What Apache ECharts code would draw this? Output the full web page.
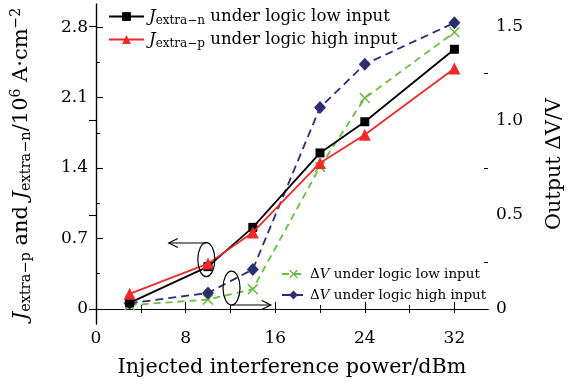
<!DOCTYPE html>
<html>
<head>
<meta charset="utf-8">
<script src="https://cdn.jsdelivr.net/npm/echarts@6/dist/echarts.min.js"></script>
<style>
  html, body { margin: 0; padding: 0; background: #fff; }
  #chart { width: 581px; height: 389px; }
</style>
</head>
<body>
<div id="chart"></div>
<script>
// Injected interference power (dBm)
const power = [3, 10, 14, 20, 24, 32];
// Extra current densities (10^6 A/cm^2), left axis
const jExtraN = [0.06, 0.42, 0.81, 1.55, 1.86, 2.58];
const jExtraP = [0.15, 0.45, 0.76, 1.45, 1.73, 2.39];
// Output voltage change (V), right axis
const dvLow = [0.02, 0.05, 0.105, 0.755, 1.12, 1.47];
const dvHigh = [0.03, 0.085, 0.21, 1.07, 1.30, 1.52];

// Tick positions
const xMajorTicks = [0, 8, 16, 24, 32];
const xMinorTicks = [4, 12, 20, 28];
const leftMajorTicks = [0, 0.7, 1.4, 2.1, 2.8];
const leftMinorTicks = [0.35, 1.05, 1.75, 2.45];
const rightMajorTicks = [0, 0.5, 1.0, 1.5];
const rightMinorTicks = [0.25, 0.75, 1.25];

// Ellipse callouts pointing to the axis each pair of curves belongs to
const leftCallout = { x: 9.85, y: 0.49, arrowX: 6.5, arrowY: 0.655 };
const rightCallout = { x: 12.1, y: 0.111, arrowX: 15.6, arrowY: 0.021 };

const FONT = 'DejaVu Serif';
const pairs = (ys) => power.map((x, i) => [x, ys[i]]);

const legendRich = (size) => ({
  i: { fontFamily: FONT, fontStyle: 'italic', fontSize: size, color: '#000' },
  sub: { fontFamily: FONT, fontSize: Math.round(size * 0.7), color: '#000', padding: [Math.round(size * 0.5), 0, 0, 0] },
  t: { fontFamily: FONT, fontSize: size, color: '#000' }
});

const legendText = {
  Jn_low: '{i|J}{sub|extra\u2212n}{t| under logic low input}',
  Jp_high: '{i|J}{sub|extra\u2212p}{t| under logic high input}',
  dV_low: '{t|\u0394}{i|V}{t| under logic low input}',
  dV_high: '{t|\u0394}{i|V}{t| under logic high input}'
};

function makeLegend(name, left, top, w, size) {
  return {
    data: [name],
    left: left,
    top: top,
    orient: 'vertical',
    itemWidth: w,
    itemHeight: 11,
    padding: 0,
    selectedMode: false,
    formatter: (n) => legendText[n],
    textStyle: { fontFamily: FONT, fontSize: size, color: '#000', rich: legendRich(size) }
  };
}

const crossSymbol = 'path://M0,1L1,0L5,4L9,0L10,1L6,5L10,9L9,10L5,6L1,10L0,9L4,5Z';
const axisLine = { show: true, lineStyle: { color: '#000', width: 1.2 } };
const labelFmt = (v) => (v === 0 ? '0' : v.toFixed(1));

const chart = echarts.init(document.getElementById('chart'), null, { renderer: 'canvas' });

const gridBox = { left: 96, right: 93, top: 4, bottom: 65, outerBoundsMode: 'none' };

chart.setOption({
  animation: false,
  backgroundColor: '#fff',
  grid: [Object.assign({}, gridBox), Object.assign({}, gridBox)],
  legend: [
    makeLegend('Jn_low', 108, 8, 35, 16.6),
    makeLegend('Jp_high', 108, 31, 35, 16.6),
    makeLegend('dV_low', 281, 267, 23, 13.5),
    makeLegend('dV_high', 281, 288, 23, 13.5)
  ],
  xAxis: [
    {
      gridIndex: 0, type: 'value', position: 'bottom', min: 0, max: 35,
      axisLine: axisLine, splitLine: { show: false },
      axisTick: { inside: true, length: 7, customValues: xMajorTicks, lineStyle: { color: '#000', width: 1.1 } },
      axisLabel: { customValues: xMajorTicks, margin: 6, fontFamily: FONT, fontSize: 17, color: '#000' },
      name: 'Injected interference power/dBm', nameLocation: 'middle', nameGap: 33,
      nameTextStyle: { fontFamily: FONT, fontSize: 20.7, color: '#000' }
    },
    {
      gridIndex: 0, type: 'value', position: 'top', min: 0, max: 35,
      axisLine: axisLine, splitLine: { show: false },
      axisTick: { inside: true, length: 4, customValues: xMajorTicks.concat(xMinorTicks), lineStyle: { color: '#000', width: 1 } },
      axisLabel: { show: false }
    },
    {
      gridIndex: 1, type: 'value', position: 'bottom', min: 0, max: 35,
      axisLine: { show: false }, splitLine: { show: false },
      axisTick: { inside: true, length: 4, customValues: xMinorTicks, lineStyle: { color: '#000', width: 1 } },
      axisLabel: { show: false }
    }
  ],
  yAxis: [
    {
      gridIndex: 0, type: 'value', position: 'left', min: -0.15, max: 3.03,
      axisLine: axisLine, splitLine: { show: false },
      axisTick: { inside: true, length: 7, customValues: leftMajorTicks, lineStyle: { color: '#000', width: 1.1 } },
      axisLabel: { customValues: leftMajorTicks, formatter: labelFmt, margin: 8, fontFamily: FONT, fontSize: 17, color: '#000' },
      name: '{i|J}{sub|extra\u2212p}{t| and }{i|J}{sub|extra\u2212n}{t|/10}{sup|6}{t| A\u00b7cm}{sup|\u22122}',
      nameLocation: 'middle', nameRotate: 90, nameGap: 62,
      nameTextStyle: {
        fontFamily: FONT, fontSize: 21, color: '#000',
        rich: {
          i: { fontFamily: FONT, fontStyle: 'italic', fontSize: 21, color: '#000' },
          t: { fontFamily: FONT, fontSize: 21, color: '#000' },
          sub: { fontFamily: FONT, fontSize: 14.5, color: '#000', padding: [10, 0, 0, 0] },
          sup: { fontFamily: FONT, fontSize: 14, color: '#000', padding: [0, 0, 10, 0] }
        }
      }
    },
    {
      gridIndex: 0, type: 'value', position: 'right', min: -0.08, max: 1.62,
      axisLine: axisLine, splitLine: { show: false },
      axisTick: { inside: true, length: 7, customValues: rightMajorTicks, lineStyle: { color: '#000', width: 1.1 } },
      axisLabel: { customValues: rightMajorTicks, formatter: labelFmt, margin: 8, fontFamily: FONT, fontSize: 17, color: '#000' },
      name: 'Output \u0394V/V', nameLocation: 'middle', nameRotate: 90, nameGap: 56,
      nameTextStyle: { fontFamily: FONT, fontSize: 20.7, color: '#000' }
    },
    {
      gridIndex: 1, type: 'value', position: 'left', min: -0.15, max: 3.03,
      axisLine: { show: false }, splitLine: { show: false },
      axisTick: { inside: true, length: 4, customValues: leftMinorTicks, lineStyle: { color: '#000', width: 1 } },
      axisLabel: { show: false }
    },
    {
      gridIndex: 1, type: 'value', position: 'right', min: -0.08, max: 1.62,
      axisLine: { show: false }, splitLine: { show: false },
      axisTick: { inside: true, length: 4, customValues: rightMinorTicks, lineStyle: { color: '#000', width: 1 } },
      axisLabel: { show: false }
    }
  ],
  series: [
    {
      name: 'Jn_low', type: 'line', xAxisIndex: 0, yAxisIndex: 0, data: pairs(jExtraN),
      symbol: 'rect', symbolSize: 9, color: '#000',
      lineStyle: { color: '#000', width: 1.8 }, itemStyle: { color: '#000' }, z: 3
    },
    {
      name: 'Jp_high', type: 'line', xAxisIndex: 0, yAxisIndex: 0, data: pairs(jExtraP),
      symbol: 'triangle', symbolSize: 12, color: '#ee2b2b',
      lineStyle: { color: '#ee2b2b', width: 1.8 }, itemStyle: { color: '#ee2b2b' }, z: 4
    },
    {
      name: 'dV_low', type: 'line', xAxisIndex: 0, yAxisIndex: 1, data: pairs(dvLow),
      symbol: crossSymbol, symbolSize: 11, color: '#6dbb45',
      lineStyle: { color: '#6dbb45', width: 1.8, type: [7, 5] }, itemStyle: { color: '#6dbb45' }, z: 2
    },
    {
      name: 'dV_high', type: 'line', xAxisIndex: 0, yAxisIndex: 1, data: pairs(dvHigh),
      symbol: 'diamond', symbolSize: [12, 13], color: '#2b2f6e',
      lineStyle: { color: '#2b2f6e', width: 1.8, type: [8, 5] }, itemStyle: { color: '#2b2f6e' }, z: 2
    }
  ]
});

// Callout ellipses with arrows, placed through the axes' own coordinate mapping
function callout(c, yAxisIndex, dir) {
  const p = chart.convertToPixel({ xAxisIndex: 0, yAxisIndex: yAxisIndex }, [c.x, c.y]);
  const a = chart.convertToPixel({ xAxisIndex: 0, yAxisIndex: yAxisIndex }, [c.arrowX, c.arrowY]);
  const stroke = { stroke: '#000', lineWidth: 1.2, fill: null };
  const tipX = a[0], tipY = a[1];
  const back = dir < 0 ? 9 : -9;
  return [
    { type: 'ellipse', shape: { cx: p[0], cy: p[1], rx: 8.5, ry: 17 }, style: Object.assign({}, stroke), z: 50 },
    { type: 'polyline', shape: { points: [[p[0], tipY], [tipX, tipY]] }, style: Object.assign({}, stroke), z: 50 },
    { type: 'polyline', shape: { points: [[tipX + back, tipY - 4.5], [tipX, tipY], [tipX + back, tipY + 4.5]] }, style: Object.assign({}, stroke), z: 50 }
  ];
}

chart.setOption({
  graphic: callout(leftCallout, 0, -1).concat(callout(rightCallout, 1, 1))
});
</script>
</body>
</html>
